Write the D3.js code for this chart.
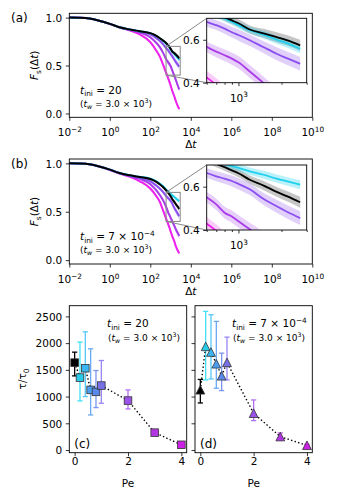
<!DOCTYPE html>
<html>
<head>
<meta charset="utf-8">
<script src="https://cdn.jsdelivr.net/npm/d3@7"></script>
<style>
body { margin: 0; background: #fff; }
svg text { font-family: "DejaVu Sans", sans-serif; fill: #000; }
</style>
</head>
<body>
<div id="chart"></div>
<script>
(function () {

// ---- data ----
// lag times (Δt) shared by every F_s curve
const dtGrid = [0.01, 0.03, 0.1, 0.3, 1, 3, 10, 30, 100, 200, 300, 400, 500, 600, 700, 800, 900, 1000, 1200, 1500, 1850, 2200, 2700];

// (a) t_ini = 20
const fsA_pe0  = [1.0, 0.998, 0.99, 0.968, 0.935, 0.9, 0.876, 0.858, 0.838, 0.81, 0.785, 0.765, 0.75, 0.735, 0.72, 0.705, 0.69, 0.677, 0.648, 0.63, 0.612, 0.597, 0.574];
const fsA_pe02 = [1.0, 0.998, 0.99, 0.968, 0.935, 0.9, 0.876, 0.858, 0.838, 0.808, 0.782, 0.762, 0.745, 0.73, 0.714, 0.70, 0.684, 0.668, 0.645, 0.624, 0.60, 0.583, 0.558];
const fsA_pe1  = [1.0, 0.998, 0.99, 0.968, 0.935, 0.9, 0.874, 0.853, 0.825, 0.785, 0.755, 0.728, 0.705, 0.683, 0.668, 0.652, 0.635, 0.622, 0.598, 0.565, 0.535, 0.513, 0.488];
const fsA_pe2  = [1.0, 0.998, 0.99, 0.968, 0.935, 0.899, 0.872, 0.845, 0.795, 0.735, 0.69, 0.645, 0.603, 0.567, 0.545, 0.528, 0.512, 0.495, 0.452, 0.398, 0.345, 0.30, 0.25];
const fsA_pe4  = [1.0, 0.998, 0.99, 0.967, 0.933, 0.897, 0.865, 0.825, 0.745, 0.655, 0.59, 0.525, 0.47, 0.425, 0.39, 0.355, 0.325, 0.295, 0.24, 0.185, 0.125, 0.085, 0.045];

// (b) t_ini = 7e-4
const fsB_pe0  = [1.0, 0.998, 0.99, 0.968, 0.935, 0.9, 0.876, 0.858, 0.838, 0.808, 0.782, 0.76, 0.74, 0.722, 0.705, 0.69, 0.675, 0.662, 0.632, 0.605, 0.576, 0.555, 0.528];
const fsB_pe02 = [1.0, 0.998, 0.99, 0.968, 0.935, 0.9, 0.876, 0.86, 0.842, 0.815, 0.79, 0.768, 0.748, 0.728, 0.715, 0.704, 0.695, 0.687, 0.671, 0.655, 0.637, 0.624, 0.609];
const fsB_pe1  = [1.0, 0.998, 0.99, 0.968, 0.935, 0.9, 0.872, 0.848, 0.815, 0.77, 0.738, 0.71, 0.685, 0.663, 0.648, 0.637, 0.626, 0.613, 0.588, 0.543, 0.51, 0.483, 0.455];
const fsB_pe2  = [1.0, 0.998, 0.99, 0.968, 0.934, 0.898, 0.868, 0.84, 0.785, 0.72, 0.67, 0.63, 0.59, 0.551, 0.518, 0.48, 0.462, 0.44, 0.403, 0.36, 0.315, 0.285, 0.25];
const fsB_pe4  = [1.0, 0.998, 0.99, 0.967, 0.932, 0.895, 0.86, 0.815, 0.74, 0.66, 0.6, 0.53, 0.475, 0.43, 0.395, 0.36, 0.33, 0.30, 0.25, 0.2, 0.14, 0.105, 0.07];

// half widths of the shaded bands (same for both t_ini)
const errPe0  = [0, 0, 0.001, 0.001, 0.002, 0.003, 0.004, 0.005, 0.007, 0.009, 0.011, 0.012, 0.013, 0.014, 0.015, 0.016, 0.017, 0.018, 0.019, 0.021, 0.023, 0.024, 0.026];
const errPe02 = [0, 0, 0.001, 0.001, 0.002, 0.003, 0.004, 0.005, 0.006, 0.008, 0.010, 0.011, 0.012, 0.013, 0.014, 0.015, 0.015, 0.016, 0.017, 0.018, 0.019, 0.020, 0.021];
const errPe1  = [0, 0, 0.001, 0.002, 0.003, 0.004, 0.005, 0.007, 0.010, 0.013, 0.016, 0.018, 0.020, 0.022, 0.023, 0.024, 0.025, 0.026, 0.027, 0.028, 0.030, 0.031, 0.032];
const errPe2  = [0, 0, 0.001, 0.002, 0.003, 0.004, 0.006, 0.008, 0.012, 0.016, 0.019, 0.021, 0.023, 0.025, 0.026, 0.027, 0.028, 0.029, 0.030, 0.030, 0.031, 0.031, 0.032];
const errPe4  = [0, 0, 0.001, 0.002, 0.003, 0.005, 0.007, 0.010, 0.015, 0.020, 0.024, 0.027, 0.029, 0.030, 0.031, 0.031, 0.032, 0.032, 0.032, 0.031, 0.029, 0.026, 0.022];

const lineColors = ["#000000", "#1fd0ee", "#8b4ef0", "#a93ce8", "#ee22ee"];
const bandColors = ["#808080", "#1fd0ee", "#9a66f0", "#b060ee", "#ee55ee"];

// (c),(d) relaxation time vs Pe
const pe     = [0, 0.2, 0.4, 0.6, 0.8, 1, 2, 3, 4];
const tauC   = [1635, 1355, 1530, 1125, 1088, 1206, 925, 325, 98];
const tauCLo = [1387, 919, 1000, 656, 794, 875, 769, 290, 80];
const tauCHi = [1831, 2019, 2212, 1894, 1487, 1675, 1125, 355, 115];
const tauD   = [1125, 1937, 1831, 1612, 1387, 1638, 687, 250, 87];
const tauDLo = [880, 1312, 1330, 1156, 1112, 1312, 550, 190, 70];
const tauDHi = [1320, 2594, 2531, 2406, 1812, 2112, 937, 320, 105];

const markColors = ["#000000", "#29cbe9", "#3cb6f0", "#4c9ef0", "#5a88ea", "#7570e6", "#9b52e8", "#b136e2", "#cc22e6"];
const errColors  = ["#000000", "#40e0f8", "#55c8f8", "#6aaaf5", "#7a95f2", "#9a85f2", "#b070f2", "#c060ee", "#d855ee"];

// ---- drawing ----
const FS = 10.5;
const svg = d3.select("#chart").append("svg")
    .attr("width", 337)
    .attr("height", 500);
const defs = svg.append("defs");

// text with italic / sub / superscript pieces
function rich(sel, x, y, parts, size, anchor) {
  const t = sel.append("text").attr("x", x).attr("y", y)
      .attr("font-size", size).attr("text-anchor", anchor || "start");
  let shift = 0;
  parts.forEach(p => {
    let target = 0, fs = size;
    if (p.sub) { target = size * 0.25; fs = size * 0.7; }
    if (p.sup) { target = -size * 0.42; fs = size * 0.7; }
    const s = t.append("tspan").text(p.t).attr("dy", target - shift).attr("font-size", fs);
    if (p.i) s.attr("font-style", "italic");
    shift = target;
  });
  return t;
}

function clipRect(id, x0, y0, x1, y1) {
  defs.append("clipPath").attr("id", id).append("rect")
      .attr("x", x0).attr("y", y0).attr("width", x1 - x0).attr("height", y1 - y0);
  return "url(#" + id + ")";
}

function cleanAxis(sel) {
  sel.select(".domain").remove();
  sel.selectAll(".tick line").attr("stroke", "#000").attr("stroke-width", 0.8);
  sel.selectAll(".tick text").remove();
}

function drawSeries(g, xs, ys, series, lw) {
  series.forEach(s => {
    const pts = dtGrid.map((t, i) => ({t: t, v: s.v[i], e: s.e[i]}));
    g.append("path").datum(pts)
      .attr("d", d3.area().curve(d3.curveMonotoneX)
        .x(d => xs(d.t)).y0(d => ys(d.v - d.e)).y1(d => ys(d.v + d.e)))
      .attr("fill", s.b).attr("fill-opacity", s.b === "#808080" ? 0.45 : 0.3);
  });
  series.slice().reverse().forEach(s => {
    const pts = dtGrid.map((t, i) => ({t: t, v: s.v[i]}));
    g.append("path").datum(pts)
      .attr("d", d3.line().curve(d3.curveMonotoneX).x(d => xs(d.t)).y(d => ys(d.v)))
      .attr("fill", "none").attr("stroke", s.c).attr("stroke-width", lw)
      .attr("stroke-linejoin", "round");
  });
}

const x = d3.scaleLog().domain([1e-2, 1e10]).range([69.3, 312.3]);
const xIn = d3.scaleLog().domain([600, 3000]).range([206.7, 306.7]);

function fsPanel(p) {
  const y = d3.scaleLinear().domain([-0.04, 1.045]).range([p.bottom, p.top]);
  const yIn = d3.scaleLinear().domain([0.4, 0.7]).range([p.inBottom, p.inTop]);
  const g = svg.append("g");
  const series = p.vals.map((v, i) => ({v: v, e: p.errs[i], c: lineColors[i], b: bandColors[i]}));

  drawSeries(g.append("g").attr("clip-path", clipRect(p.id + "m", 69.3, p.top, 312.3, p.bottom)), x, y, series, 2);

  g.append("rect").attr("x", 69.3).attr("y", p.top).attr("width", 243).attr("height", p.bottom - p.top)
    .attr("fill", "none").attr("stroke", "#000").attr("stroke-width", 0.9);

  const xa = g.append("g").attr("transform", "translate(0," + p.bottom + ")")
    .call(d3.axisBottom(x).tickValues([1e-2, 1, 1e2, 1e4, 1e6, 1e8, 1e10]).tickSize(3.5).tickFormat(""))
    .call(cleanAxis);
  xa.selectAll(".tick").each(function (d) {
    rich(d3.select(this), 0, 19, [{t: "10"}, {t: String(Math.round(Math.log10(d))).replace("-", "\u2212"), sup: true}], FS, "middle");
  });
  const ya = g.append("g").attr("transform", "translate(69.3,0)")
    .call(d3.axisLeft(y).tickValues([0, 0.5, 1]).tickSize(3.5).tickFormat(""))
    .call(cleanAxis);
  ya.selectAll(".tick").append("text").attr("x", -7).attr("dy", "0.36em")
    .attr("text-anchor", "end").attr("font-size", FS).text(d => d3.format(".1f")(d));

  rich(g, 190.8, p.bottom + 31, [{t: "\u0394"}, {t: "t", i: true}], FS, "middle");
  rich(g.append("g").attr("transform", "translate(38," + (p.top + p.bottom) / 2 + ") rotate(-90)"), 0, 0,
    [{t: "F", i: true}, {t: "s", sub: true}, {t: "(\u0394"}, {t: "t", i: true}, {t: ")"}], FS, "middle");

  g.append("text").attr("x", 11).attr("y", p.top + 9).attr("font-size", 12).text(p.label);
  rich(g, 80, p.top + p.t1, p.tini, FS);
  rich(g, 80, p.top + p.t2, [{t: "("}, {t: "t", i: true}, {t: "w", i: true, sub: true}, {t: " = 3.0 \u00d7 10"}, {t: "3", sup: true}, {t: ")"}], 9);

  // zoom box and connectors
  g.append("rect").attr("x", x(600)).attr("y", y(0.7)).attr("width", x(3000) - x(600)).attr("height", y(0.4) - y(0.7))
    .attr("fill", "none").attr("stroke", "#888").attr("stroke-width", 1);
  g.append("line").attr("x1", x(600)).attr("y1", y(0.7)).attr("x2", 206.7).attr("y2", p.inTop)
    .attr("stroke", "#888").attr("stroke-width", 1);
  g.append("line").attr("x1", x(600)).attr("y1", y(0.4)).attr("x2", 206.7).attr("y2", p.inBottom)
    .attr("stroke", "#888").attr("stroke-width", 1);

  // inset
  g.append("rect").attr("x", 206.7).attr("y", p.inTop).attr("width", 100).attr("height", p.inBottom - p.inTop)
    .attr("fill", "#fff");
  drawSeries(g.append("g").attr("clip-path", clipRect(p.id + "i", 206.7, p.inTop, 306.7, p.inBottom)), xIn, yIn, series, 1.8);
  g.append("rect").attr("x", 206.7).attr("y", p.inTop).attr("width", 100).attr("height", p.inBottom - p.inTop)
    .attr("fill", "none").attr("stroke", "#000").attr("stroke-width", 0.9);
  const ix = g.append("g").attr("transform", "translate(0," + p.inBottom + ")")
    .call(d3.axisBottom(xIn).tickValues([1000]).tickSize(3.5).tickFormat(""))
    .call(cleanAxis);
  ix.selectAll(".tick").each(function () {
    rich(d3.select(this), 0, 19, [{t: "10"}, {t: "3", sup: true}], FS, "middle");
  });
  g.append("g").attr("transform", "translate(0," + p.inBottom + ")")
    .call(d3.axisBottom(xIn).tickValues([600, 700, 800, 900, 2000, 3000]).tickSize(2).tickFormat(""))
    .call(cleanAxis);
  const iy = g.append("g").attr("transform", "translate(206.7,0)")
    .call(d3.axisLeft(yIn).tickValues([0.4, 0.6]).tickSize(3.5).tickFormat(""))
    .call(cleanAxis);
  iy.selectAll(".tick").append("text").attr("x", -7).attr("dy", "0.36em")
    .attr("text-anchor", "end").attr("font-size", FS).text(d => d3.format(".1f")(d));
}

fsPanel({id: "a", label: "(a)", top: 13.3, bottom: 117.3, inTop: 18.3, inBottom: 82.7,
  vals: [fsA_pe0, fsA_pe02, fsA_pe1, fsA_pe2, fsA_pe4], errs: [errPe0, errPe02, errPe1, errPe2, errPe4],
  t1: 80.5, t2: 93.2,
  tini: [{t: "t", i: true}, {t: "ini", sub: true}, {t: " = 20"}]});
fsPanel({id: "b", label: "(b)", top: 159, bottom: 264, inTop: 165, inBottom: 230,
  vals: [fsB_pe0, fsB_pe02, fsB_pe1, fsB_pe2, fsB_pe4], errs: [errPe0, errPe02, errPe1, errPe2, errPe4],
  t1: 81, t2: 93.5,
  tini: [{t: "t", i: true}, {t: "ini", sub: true}, {t: " = 7 \u00d7 10"}, {t: "\u22124", sup: true}]});

// ---- tau vs Pe panels ----
const yT = d3.scaleLinear().domain([-50, 2700]).range([452.7, 305.7]);

function tauPanel(p) {
  const xs = d3.scaleLinear().domain([-0.2, 4.2]).range([p.x0, p.x1]);
  const g = svg.append("g");
  const pts = pe.map((v, i) => ({pe: v, tau: p.tau[i], lo: p.lo[i], hi: p.hi[i], c: markColors[i], ec: errColors[i]}));

  // error bars
  pts.forEach(d => {
    const cx = xs(d.pe);
    g.append("line").attr("x1", cx).attr("x2", cx).attr("y1", yT(d.lo)).attr("y2", yT(d.hi))
      .attr("stroke", d.ec).attr("stroke-width", 1.3);
    [d.lo, d.hi].forEach(v => g.append("line").attr("x1", cx - 2.6).attr("x2", cx + 2.6)
      .attr("y1", yT(v)).attr("y2", yT(v)).attr("stroke", d.ec).attr("stroke-width", 1.3));
  });
  // dotted guide
  g.append("path").datum(pts)
    .attr("d", d3.line().x(d => xs(d.pe)).y(d => yT(d.tau)))
    .attr("fill", "none").attr("stroke", "#000").attr("stroke-width", 1.4)
    .attr("stroke-dasharray", "1.4,2.3");
  // markers
  pts.forEach(d => {
    const cx = xs(d.pe), cy = yT(d.tau);
    if (p.square) {
      g.append("rect").attr("x", cx - 3.8).attr("y", cy - 3.8).attr("width", 7.6).attr("height", 7.6)
        .attr("fill", d.c).attr("stroke", "#333").attr("stroke-width", 0.8);
    } else {
      g.append("path").attr("d", `M${cx},${cy - 4.4}L${cx - 4.4},${cy + 4.2}L${cx + 4.4},${cy + 4.2}Z`)
        .attr("fill", d.c).attr("stroke", "#333").attr("stroke-width", 0.8);
    }
  });

  g.append("rect").attr("x", p.x0).attr("y", 305.7).attr("width", p.x1 - p.x0).attr("height", 147)
    .attr("fill", "none").attr("stroke", "#000").attr("stroke-width", 0.9);

  const xa = g.append("g").attr("transform", "translate(0,452.7)")
    .call(d3.axisBottom(xs).tickValues([0, 2, 4]).tickSize(3.5).tickFormat(""))
    .call(cleanAxis);
  xa.selectAll(".tick").append("text").attr("y", 12.5).attr("text-anchor", "middle")
    .attr("font-size", FS).text(d => d);
  const ya = g.append("g").attr("transform", "translate(" + p.x0 + ",0)")
    .call(d3.axisLeft(yT).tickValues([0, 500, 1000, 1500, 2000, 2500]).tickSize(3.5).tickFormat(""))
    .call(cleanAxis);
  if (p.yLabels) {
    ya.selectAll(".tick").append("text").attr("x", -7).attr("dy", "0.36em")
      .attr("text-anchor", "end").attr("font-size", FS).text(d => d);
    rich(g.append("g").attr("transform", "translate(26,379) rotate(-90)"), 0, 0,
      [{t: "\u03c4/\u03c4"}, {t: "0", sub: true}], FS, "middle");
  }
  g.append("text").attr("x", (p.x0 + p.x1) / 2).attr("y", 487).attr("text-anchor", "middle")
    .attr("font-size", FS).text("Pe");
  g.append("text").attr("x", p.x0 + 5).attr("y", 448).attr("font-size", 12).text(p.label);
  rich(g, p.tx, 327, p.tini, FS);
  rich(g, p.tx + 1, 341, [{t: "("}, {t: "t", i: true}, {t: "w", i: true, sub: true}, {t: " = 3.0 \u00d7 10"}, {t: "3", sup: true}, {t: ")"}], 9);
}

tauPanel({x0: 69.3, x1: 186.7, tau: tauC, lo: tauCLo, hi: tauCHi, square: true, yLabels: true,
  label: "(c)", tx: 107, tini: [{t: "t", i: true}, {t: "ini", sub: true}, {t: " = 20"}]});
tauPanel({x0: 195, x1: 312.3, tau: tauD, lo: tauDLo, hi: tauDHi, square: false, yLabels: false,
  label: "(d)", tx: 232, tini: [{t: "t", i: true}, {t: "ini", sub: true}, {t: " = 7 \u00d7 10"}, {t: "\u22124", sup: true}]});

})();
</script>
</body>
</html>
